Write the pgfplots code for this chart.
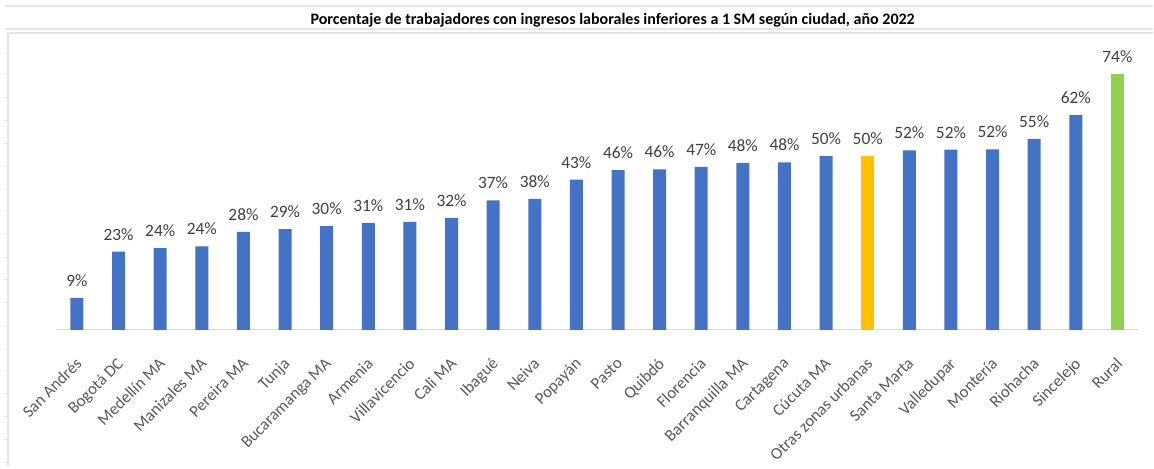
\documentclass[border=0pt]{standalone}
\usepackage{pgfplots}
\pgfplotsset{compat=1.18}
\usepackage{pgfplotstable}
\usepackage{fontspec}
\setmainfont{Carlito}

\definecolor{barblue}{HTML}{4472C4}
\definecolor{baryellow}{HTML}{FFC000}
\definecolor{bargreen}{HTML}{92D050}
\definecolor{lbl}{HTML}{404040}
\definecolor{ticklbl}{HTML}{595959}
\definecolor{axisgray}{HTML}{D9D9D9}
\definecolor{framegray}{HTML}{E6E6E6}

% x = category index, y = value, lab = printed label
\pgfplotstableread{
x y lab
0 9.2 9
1 22.6 23
2 23.6 24
3 24.1 24
4 28.3 28
5 29.1 29
6 30.0 30
7 30.9 31
8 31.2 31
9 32.4 32
10 37.4 37
11 37.9 38
12 43.4 43
13 46.2 46
14 46.4 46
15 47.1 47
16 48.3 48
17 48.4 48
18 50.2 50
20 51.9 52
21 52.1 52
22 52.2 52
23 55.2 55
24 62.1 62
}\blue
\pgfplotstableread{
x y lab
19 50.4 50
}\yellow
\pgfplotstableread{
x y lab
25 74.0 74
}\green

\begin{document}
\begin{tikzpicture}
\begin{axis}[
    scale only axis,
    width=812pt, height=207.6pt,
    at={(0,0)}, anchor=south west,
    ymin=0, ymax=80,
    xmin=-0.5, xmax=25.5,
    ybar, bar width=9.75pt, bar shift=0pt,
    axis y line=none,
    axis x line*=bottom,
    x axis line style={draw=axisgray, line width=0.8pt, -},
    major tick length=0pt,
    xtick={0,...,25},
    xticklabels={San Andrés, Bogotá DC, Medellín MA, Manizales MA, Pereira MA, Tunja, Bucaramanga MA, Armenia, Villavicencio, Cali MA, Ibagué, Neiva, Popayán, Pasto, Quibdó, Florencia, Barranquilla MA, Cartagena, Cúcuta MA, Otras zonas urbanas, Santa Marta, Valledupar, Montería, Riohacha, Sincelejo, Rural},
    x tick label style={rotate=45, anchor=north east, font=\fontsize{12.5}{14}\selectfont, text=ticklbl, xshift=-12pt, yshift=-9.5pt},
    point meta=explicit symbolic,
    nodes near coords={\pgfplotspointmeta\%},
    every node near coord/.append style={font=\fontsize{13}{15}\selectfont, text=lbl, anchor=south, yshift=5pt},
    clip=false,
]
\addplot[fill=barblue, draw=none] table[x=x, y=y, meta=lab] {\blue};
\addplot[fill=baryellow, draw=none] table[x=x, y=y, meta=lab] {\yellow};
\addplot[fill=bargreen, draw=none] table[x=x, y=y, meta=lab] {\green};
\end{axis}
\begin{scope}[x=0.75pt, y=-0.75pt, shift={(-56.2,-330)}]
  \draw[framegray, line width=0.8pt] (5,6) -- (1154,6);
  \draw[framegray, line width=0.8pt] (5,29) -- (1154,29);
  \draw[framegray, line width=1pt] (8,466) -- (8,33) -- (1154,33);
  \foreach \i in {0,...,18} {
    \draw[framegray, line width=0.6pt] (4,52+22.8*\i) -- (8,52+22.8*\i);
  }
  \node[font=\fontsize{12}{14}\selectfont\bfseries] at (613,20) {Porcentaje de trabajadores con ingresos laborales inferiores a 1 SM según ciudad, año 2022};
  \path[use as bounding box] (0,0) rectangle (1154,466);
\end{scope}
\end{tikzpicture}
\end{document}
